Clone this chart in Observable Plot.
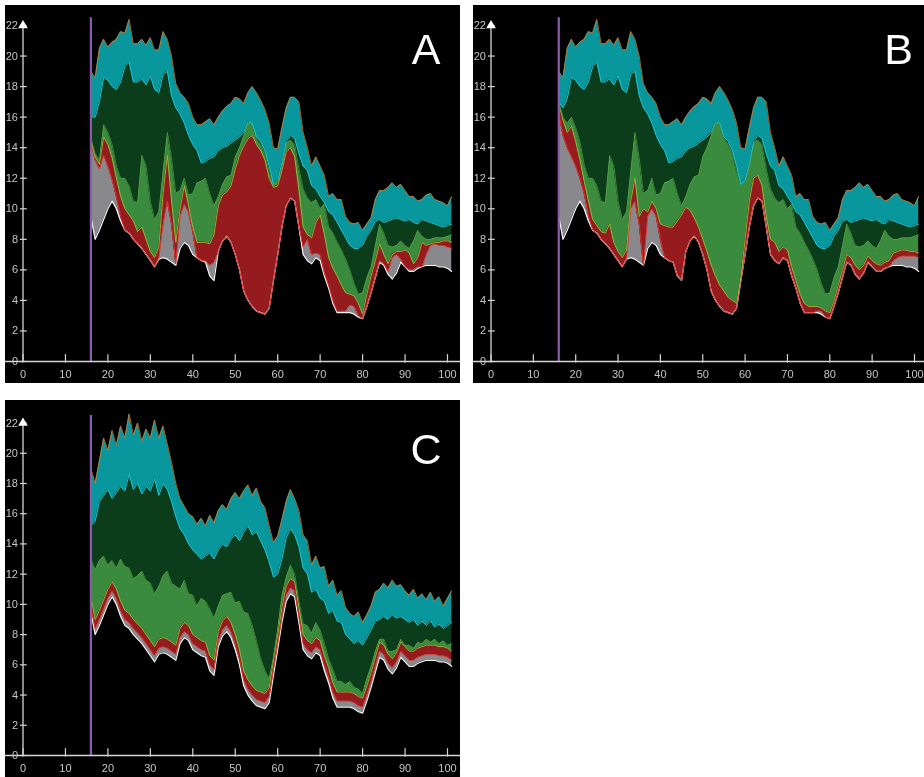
<!DOCTYPE html>
<html><head><meta charset="utf-8">
<script src="https://cdn.jsdelivr.net/npm/d3@7"></script>
<script src="https://cdn.jsdelivr.net/npm/@observablehq/plot@0.6"></script>
<style>
html,body{margin:0;padding:0;background:#fff;}
body{width:924px;height:777px;position:relative;overflow:hidden;font-family:"Liberation Sans",Arial,sans-serif;-webkit-font-smoothing:antialiased;}
.panel{position:absolute;background:#000;overflow:hidden;}
.panel svg{display:block;will-change:transform;}
</style></head><body>
<div id="pA" class="panel" style="left:5px;top:5px;width:455px;height:378px"></div>
<div id="pB" class="panel" style="left:473px;top:5px;width:451px;height:378px"></div>
<div id="pC" class="panel" style="left:5px;top:400px;width:455px;height:377px"></div>
<script>
const xs = [16,17,18,19,20,21,22,23,24,25,26,27,28,29,30,31,32,33,34,35,36,37,38,39,40,41,42,43,44,45,46,47,48,49,50,51,52,53,54,55,56,57,58,59,60,61,62,63,64,65,66,67,68,69,70,71,72,73,74,75,76,77,78,79,80,81,82,83,84,85,86,87,88,89,90,91,92,93,94,95,96,97,98,99,100,101];
const yTicks = [0,2,4,6,8,10,12,14,16,18,20,22];
const xTicks = [0,10,20,30,40,50,60,70,80,90,100];
const markerX = 16;

// Panel A boundaries (bottom -> top)
const A_bottom = [9.5,8.0,8.6,9.3,10.0,10.5,10.0,9.2,8.6,8.4,8.0,7.7,7.4,7.0,6.6,6.2,6.7,6.8,6.7,6.5,6.3,7.4,7.8,7.6,7.0,6.8,6.6,6.5,5.6,5.3,7.2,7.9,8.2,7.8,7.0,6.0,4.6,4.0,3.6,3.3,3.2,3.1,3.5,5.3,7.0,8.8,10.2,10.7,10.5,8.8,7.0,6.6,6.4,6.8,6.6,5.6,4.8,3.8,3.2,3.2,3.2,3.2,3.1,2.9,2.8,3.6,4.5,5.5,6.5,6.3,5.7,5.4,5.8,6.5,6.2,5.9,5.9,6.1,6.2,6.3,6.3,6.3,6.2,6.2,6.1,5.9];
const A_gray = [14.4,13.2,12.6,13.5,12.8,11.9,10.8,9.5,8.6,8.4,8.0,7.7,7.4,7.0,6.6,6.2,6.8,9.0,10.5,9.0,6.4,9.5,10.3,9.8,8.5,6.8,6.6,6.6,6.3,6.5,7.2,7.9,8.2,7.8,7.0,6.0,4.6,4.0,3.6,3.3,3.2,3.1,3.5,5.3,7.0,8.8,10.2,10.7,10.5,8.8,7.5,8.0,7.0,7.1,7.0,5.8,5.0,4.0,3.3,3.3,3.3,3.7,3.6,3.0,2.8,3.6,4.5,5.5,6.6,6.4,5.9,6.8,7.0,6.7,6.2,6.0,6.0,6.2,6.2,7.0,7.6,7.7,7.6,7.6,7.5,7.4];
const A_red = [14.5,13.4,12.9,14.7,14.2,13.3,12.0,10.8,10.0,9.6,9.2,8.5,8.8,8.0,7.2,6.8,7.5,11.0,13.5,10.5,7.8,10.0,11.5,10.2,8.8,7.8,7.8,7.8,7.7,8.3,10.2,10.9,11.1,11.5,12.6,13.5,14.1,14.6,14.8,14.2,13.8,13.2,12.0,11.4,11.5,12.5,13.7,14.0,13.4,11.2,8.8,8.3,8.1,9.1,9.6,8.3,6.8,6.1,5.6,5.0,4.5,4.4,4.3,3.8,3.1,4.4,5.6,6.6,7.7,7.0,6.4,7.0,7.2,7.2,7.3,7.1,6.4,6.8,7.8,7.6,7.7,7.8,7.8,7.9,7.9,7.8];
const A_lgreen = [14.6,13.6,13.2,15.5,15.0,14.2,12.8,12.0,12.0,11.5,10.5,10.4,13.5,12.8,10.5,9.3,9.8,12.5,15.0,13.3,11.0,11.2,12.0,10.9,11.0,11.7,11.8,12.0,11.0,10.2,10.8,11.6,12.1,12.2,13.4,14.0,14.8,15.6,15.6,14.6,14.2,13.6,12.4,11.6,11.8,12.8,14.3,14.5,14.2,12.6,11.3,10.7,10.4,10.6,10.0,10.3,8.8,8.4,7.8,7.3,6.7,6.0,5.1,4.4,4.5,5.5,6.2,7.6,9.0,8.4,7.6,7.5,7.6,7.9,7.6,7.4,7.9,8.6,8.2,8.0,8.0,8.1,8.1,8.1,8.2,8.3];
const A_dgreen = [16.0,16.0,17.0,18.6,18.4,18.0,17.8,18.3,19.3,19.6,18.3,18.3,18.5,18.1,18.7,17.8,17.6,18.8,19.0,17.4,16.6,16.2,15.6,14.8,14.2,13.8,13.0,13.1,13.3,13.4,13.8,14.0,14.1,14.3,14.5,14.7,15.0,15.7,15.6,14.7,14.4,13.8,12.8,11.6,11.9,13.0,14.4,14.8,14.6,13.6,12.8,12.5,11.5,11.3,10.8,10.4,9.8,9.6,9.1,8.6,8.1,7.6,7.4,7.4,7.6,8.2,8.6,9.2,9.3,9.1,9.2,9.3,9.4,9.3,9.2,9.3,9.1,9.0,9.3,9.2,9.1,9.0,8.9,8.8,8.9,9.0];
const A_teal = [19.0,18.6,20.5,21.1,20.6,20.9,21.1,21.6,21.5,22.4,20.8,20.8,21.1,20.7,21.2,20.4,20.4,21.6,21.1,20.0,18.2,17.6,17.3,16.9,16.0,15.5,15.5,15.7,15.9,15.5,16.0,16.4,16.7,16.9,17.3,17.2,16.9,17.6,18.0,17.6,17.1,16.5,15.6,14.0,13.9,15.3,16.6,17.3,17.3,17.0,15.0,14.0,12.8,13.4,12.8,12.2,10.8,11.0,10.6,10.6,9.5,9.1,9.0,9.1,8.6,9.0,9.4,10.6,11.2,11.2,11.4,11.7,11.4,11.6,11.2,10.8,10.8,10.5,10.6,10.9,11.0,10.6,10.5,10.4,10.2,10.8];

// Panel B boundaries
const B_bottom = [9.5,8.0,8.6,9.3,10.0,10.5,10.0,9.2,8.6,8.4,8.0,7.7,7.4,7.0,6.6,6.2,6.7,6.8,6.7,6.5,6.3,7.4,7.8,7.6,7.0,6.8,6.6,6.5,5.6,5.3,7.2,7.9,8.2,7.8,7.0,6.0,4.6,4.0,3.6,3.3,3.2,3.1,3.5,5.3,7.0,8.8,10.2,10.7,10.5,8.8,7.0,6.6,6.4,6.8,6.6,5.6,4.8,3.8,3.2,3.2,3.2,3.2,3.1,2.9,2.8,3.6,4.5,5.5,6.5,6.3,5.7,5.4,5.8,6.5,6.2,5.9,5.9,6.1,6.2,6.3,6.3,6.3,6.2,6.2,6.1,5.9];
const B_gray = [16.3,14.8,14.0,13.4,12.8,12.0,11.0,9.6,8.6,8.4,8.0,7.7,7.4,7.0,6.6,6.2,6.7,10.0,10.5,9.0,6.3,9.5,10.0,9.5,8.0,6.8,6.6,6.5,5.6,5.3,7.2,7.9,8.2,7.8,7.0,6.0,4.6,4.0,3.6,3.3,3.2,3.1,3.5,5.3,7.0,8.8,10.2,10.7,10.5,8.8,7.0,6.6,6.4,6.8,6.6,5.6,4.8,3.8,3.2,3.2,3.2,3.3,3.3,2.9,2.8,3.6,4.5,5.5,6.5,6.3,5.7,5.4,5.8,6.5,6.2,5.9,5.9,6.1,6.2,6.6,6.8,6.9,6.9,6.9,6.9,6.8];
const B_red = [16.9,15.8,15.0,15.4,14.4,13.2,11.8,10.5,9.3,8.9,8.5,8.4,9.0,7.8,7.2,6.8,7.3,10.5,12.0,9.5,10.0,9.8,10.5,10.0,9.0,8.9,8.8,8.8,9.2,9.6,10.1,9.9,9.4,8.8,8.0,7.2,6.3,5.6,5.0,4.6,4.2,4.0,3.8,5.5,8.0,10.5,12.0,12.2,11.5,9.5,8.0,7.8,7.2,7.5,7.3,6.2,5.3,4.4,3.8,3.6,3.6,3.6,3.5,3.3,3.2,4.0,5.0,6.0,7.0,6.8,6.3,6.0,6.3,6.9,6.6,6.4,6.3,6.5,6.6,7.1,7.2,7.3,7.3,7.2,7.2,7.1];
const B_lgreen = [17.0,16.0,15.6,16.0,15.3,14.4,12.9,12.0,12.0,11.5,10.5,10.4,13.5,12.8,10.5,9.3,9.8,12.5,15.0,13.3,11.0,11.2,12.0,10.9,11.0,11.7,11.8,12.0,11.0,10.2,10.8,11.6,12.1,12.2,13.4,14.0,14.8,15.6,15.6,14.6,14.2,13.6,12.4,11.6,11.8,12.8,14.3,14.5,14.2,12.6,11.3,10.7,10.4,10.6,10.0,10.3,8.8,8.4,7.8,7.3,6.7,6.0,5.1,4.4,4.5,5.5,6.2,7.6,9.0,8.4,7.6,7.5,7.6,7.9,7.6,7.4,7.9,8.6,8.2,8.0,8.0,8.1,8.1,8.1,8.2,8.3];
const B_dgreen = [17.0,16.6,17.2,18.6,18.4,18.0,17.8,18.3,19.3,19.6,18.3,18.3,18.5,18.1,18.7,17.8,17.6,18.8,19.0,17.4,16.6,16.2,15.6,14.8,14.2,13.8,13.0,13.1,13.3,13.4,13.8,14.0,14.1,14.3,14.5,14.7,15.0,15.7,15.6,14.7,14.4,13.8,12.8,11.6,11.9,13.0,14.4,14.8,14.6,13.6,12.8,12.5,11.5,11.3,10.8,10.4,9.8,9.6,9.1,8.6,8.1,7.6,7.4,7.4,7.6,8.2,8.6,9.2,9.3,9.1,9.2,9.3,9.4,9.3,9.2,9.3,9.1,9.0,9.3,9.2,9.1,9.0,8.9,8.8,8.9,9.0];
const B_teal = [19.0,18.6,20.5,21.1,20.6,20.9,21.1,21.6,21.5,22.4,20.8,20.8,21.1,20.7,21.2,20.4,20.4,21.6,21.1,20.0,18.2,17.6,17.3,16.9,16.0,15.5,15.5,15.7,15.9,15.5,16.0,16.4,16.7,16.9,17.3,17.2,16.9,17.6,18.0,17.6,17.1,16.5,15.6,14.0,13.9,15.3,16.6,17.3,17.3,17.0,15.0,14.0,12.8,13.4,12.8,12.2,10.8,11.0,10.6,10.6,9.5,9.1,9.0,9.1,8.6,9.0,9.4,10.6,11.2,11.2,11.4,11.7,11.4,11.6,11.2,10.8,10.8,10.5,10.6,10.9,11.0,10.6,10.5,10.4,10.2,10.8];

// Panel C boundaries
const C_bottom = [9.5,8.0,8.6,9.3,10.0,10.5,10.0,9.2,8.6,8.4,8.0,7.7,7.4,7.0,6.6,6.2,6.7,6.8,6.7,6.5,6.3,7.4,7.8,7.6,7.0,6.8,6.6,6.5,5.6,5.3,7.2,7.9,8.2,7.8,7.0,6.0,4.6,4.0,3.6,3.3,3.2,3.1,3.5,5.3,7.0,8.8,10.2,10.7,10.5,8.8,7.0,6.6,6.4,6.8,6.6,5.6,4.8,3.8,3.2,3.2,3.2,3.2,3.1,2.9,2.8,3.6,4.5,5.5,6.5,6.3,5.7,5.4,5.8,6.5,6.2,5.9,5.9,6.1,6.2,6.3,6.3,6.3,6.2,6.2,6.1,5.9];
const C_gray = [9.8,8.4,9.0,9.7,10.4,10.9,10.4,9.6,9.0,8.8,8.4,8.1,7.8,7.4,7.0,6.6,7.1,7.2,7.1,6.9,6.7,7.8,8.2,8.0,7.4,7.2,7.0,6.9,6.0,5.7,7.6,8.3,8.6,8.2,7.4,6.4,5.0,4.4,4.0,3.7,3.6,3.5,3.9,5.7,7.4,9.2,10.6,11.1,10.9,9.2,7.4,7.0,6.8,7.2,7.0,6.0,5.2,4.2,3.6,3.6,3.6,3.6,3.5,3.3,3.2,4.0,4.9,5.9,6.9,6.7,6.1,5.8,6.2,6.9,6.6,6.3,6.3,6.5,6.6,6.7,6.7,6.7,6.6,6.6,6.5,6.3];
const C_red = [10.5,9.0,9.6,10.3,11.0,11.5,11.0,10.2,9.6,9.4,9.0,8.7,8.4,8.0,7.6,7.2,7.7,7.8,7.7,7.5,7.3,8.4,8.8,8.6,8.0,7.8,7.6,7.5,6.6,6.3,8.2,8.9,9.2,8.8,8.0,7.0,5.6,5.0,4.6,4.3,4.2,4.1,4.5,6.3,8.0,9.8,11.2,11.7,11.5,9.8,8.0,7.6,7.4,7.8,7.6,6.6,5.8,4.8,4.2,4.2,4.2,4.2,4.1,3.9,3.8,4.6,5.5,6.5,7.5,7.3,6.7,6.4,6.8,7.5,7.2,6.9,6.9,7.1,7.2,7.3,7.3,7.3,7.2,7.2,7.1,6.9];
const C_lgreen = [13.0,12.3,12.9,13.2,12.6,12.9,12.4,13.0,12.5,12.4,11.7,11.9,12.2,11.6,11.4,10.7,11.2,11.9,12.2,11.4,11.2,11.0,11.6,10.7,10.6,9.9,10.4,10.2,9.7,9.1,9.9,10.6,10.7,10.8,10.1,10.2,9.5,9.4,8.6,7.6,6.4,5.6,5.1,6.5,8.4,10.6,11.8,12.6,12.0,10.2,8.7,8.6,8.1,8.8,8.3,7.4,6.4,5.7,4.9,4.9,4.7,4.9,4.5,4.4,4.1,5.1,5.9,6.9,7.7,7.7,6.9,6.9,7.0,7.7,7.3,7.3,7.1,7.5,7.4,7.7,7.5,7.7,7.4,7.6,7.3,7.4];
const C_dgreen = [15.2,15.5,16.8,17.2,17.6,17.0,17.4,17.8,17.5,18.6,17.6,18.0,17.3,17.8,17.5,18.3,17.2,18.0,17.6,16.8,15.8,15.0,14.6,14.0,13.6,13.3,13.0,13.2,13.4,13.0,13.6,14.0,13.8,14.3,14.6,14.2,14.8,15.2,14.6,14.8,14.2,13.6,12.8,11.8,12.0,13.0,14.4,15.0,14.6,13.8,12.4,12.0,10.8,11.0,10.4,10.2,9.4,9.6,8.9,8.8,8.0,7.7,7.4,7.6,7.3,7.8,8.3,8.9,9.0,9.2,9.0,9.3,9.1,9.2,9.0,8.8,9.0,8.6,8.9,8.6,8.9,8.5,8.7,8.4,8.6,8.8];
const C_teal = [19.0,18.0,19.5,21.0,20.2,21.5,20.5,21.8,21.0,22.6,21.2,22.0,20.8,21.6,21.0,22.2,21.0,21.8,20.6,19.4,18.0,17.0,16.5,16.0,15.8,15.3,15.7,15.2,15.9,15.4,16.2,16.6,16.3,17.0,17.4,17.0,17.5,17.9,17.2,17.7,16.8,16.4,15.2,14.1,14.5,15.6,16.8,17.6,17.0,16.2,14.6,14.2,12.6,13.2,12.4,12.5,11.2,11.6,10.6,10.9,9.8,9.4,9.2,9.5,8.8,9.3,9.9,10.8,11.0,11.4,11.1,11.6,11.2,11.3,10.9,10.6,11.0,10.4,10.7,10.3,10.8,10.2,10.5,9.9,10.4,10.9];

const layerColors = {gray:"#88888d", red:"#951b1e", lgreen:"#3a8b3e", dgreen:"#0c3d1b", teal:"#07979c"};
const edgeColors = {b0:"#f2f2f2", b1:"#e2312b", b2:"#a9c73c", b3:"#56a447", b4:"#20c3d3", b5:"#d7782c"};
const labelColor = "#c4c4c4";

function drawPanel(id, d, cfg) {
  const rows = xs.map((x, i) => ({x, b0: d.bottom[i], b1: d.gray[i], b2: d.red[i], b3: d.lgreen[i], b4: d.dgreen[i], b5: d.teal[i]}));
  const layers = [["b0","b1",layerColors.gray],["b1","b2",layerColors.red],["b2","b3",layerColors.lgreen],["b3","b4",layerColors.dgreen],["b4","b5",layerColors.teal]];
  const axisColor = "#d6d6d6";
  const chart = Plot.plot({
    width: cfg.w, height: cfg.h,
    marginLeft: cfg.ml, marginRight: cfg.mr, marginTop: cfg.mt, marginBottom: cfg.mb,
    x: {domain: [0, 100], axis: null},
    y: {domain: [0, 22], axis: null},
    style: {background: "#000", color: labelColor, fontFamily: "'Liberation Sans', Arial, sans-serif", fontSize: "11px", overflow: "hidden"},
    marks: [
      ...layers.map(([a, b, f]) => Plot.areaY(rows, {x: "x", y1: a, y2: b, fill: f})),
      Plot.lineY(rows, {x: "x", y: "b0", stroke: edgeColors.b0, strokeWidth: 1.2}),
      Plot.lineY(rows, {x: "x", y: "b1", stroke: edgeColors.b1, strokeWidth: 1}),
      Plot.lineY(rows, {x: "x", y: "b2", stroke: edgeColors.b2, strokeWidth: 0.8}),
      Plot.lineY(rows, {x: "x", y: "b3", stroke: edgeColors.b3, strokeWidth: 0.7}),
      Plot.lineY(rows, {x: "x", y: "b4", stroke: edgeColors.b4, strokeWidth: 1}),
      Plot.lineY(rows, {x: "x", y: "b5", stroke: edgeColors.b5, strokeWidth: 0.8}),
      Plot.ruleX([markerX], {y1: 0, y2: 22.5, stroke: "#8b5cae", strokeWidth: 2.2}),
      Plot.ruleY([0], {x1: -5, x2: 106, stroke: axisColor, strokeWidth: 1.3}),
      Plot.ruleX([0], {y1: 0, y2: 22, stroke: axisColor, strokeWidth: 1.3}),
      Plot.ruleY(yTicks, {x1: -0.6, x2: 1.0, stroke: axisColor, strokeWidth: 1.2}),
      Plot.ruleX(xTicks, {y1: -0.1, y2: 0.45, stroke: axisColor, strokeWidth: 1.2}),
      Plot.axisY({ticks: yTicks, tickSize: 0, tickPadding: 5, label: null, color: labelColor, fill: labelColor, fontSize: 11}),
      Plot.axisX({ticks: xTicks, tickSize: 0, tickPadding: 9, label: null, color: labelColor, fill: labelColor, fontSize: 11}),
      Plot.dot([22], {x: 0, y: v => v, symbol: "triangle", r: 3.6, fill: "#fff", stroke: "none"}),
      Plot.text([cfg.letter], {text: v => v, frameAnchor: "top-right", dx: cfg.ldx, dy: cfg.ldy, fontSize: 43, fill: "#fff", textAnchor: "middle", lineAnchor: "top"})
    ]
  });
  document.getElementById(id).appendChild(chart);
}

drawPanel("pA", {bottom: A_bottom, gray: A_gray, red: A_red, lgreen: A_lgreen, dgreen: A_dgreen, teal: A_teal},
  {w: 455, h: 378, ml: 17.5, mr: 13, mt: 20, mb: 22, letter: "A", ldx: -21.5, ldy: 8});
drawPanel("pB", {bottom: B_bottom, gray: B_gray, red: B_red, lgreen: B_lgreen, dgreen: B_dgreen, teal: B_teal},
  {w: 451, h: 378, ml: 17.5, mr: 10, mt: 20, mb: 22, letter: "B", ldx: -16, ldy: 8});
drawPanel("pC", {bottom: C_bottom, gray: C_gray, red: C_red, lgreen: C_lgreen, dgreen: C_dgreen, teal: C_teal},
  {w: 455, h: 377, ml: 17.5, mr: 13, mt: 22.5, mb: 22, letter: "C", ldx: -21.5, ldy: 10});
</script>
</body></html>
